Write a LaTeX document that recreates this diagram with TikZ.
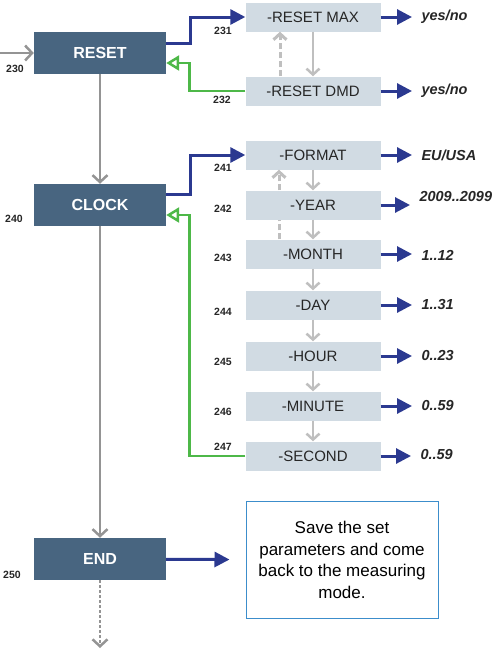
\documentclass[tikz,border=0pt]{standalone}
\usepackage{fontspec}
\setmainfont{Liberation Sans}
\usetikzlibrary{arrows.meta}
\definecolor{boxdark}{HTML}{486580}
\definecolor{boxlight}{HTML}{D1DBE3}
\definecolor{navy}{HTML}{2B3990}
\definecolor{okgreen}{HTML}{4DB848}
\definecolor{noteblue}{HTML}{3C8DCB}

\begin{document}
\begin{tikzpicture}
  [x=1pt,y=-1pt,
   main/.style={fill=boxdark,text=white,font=\fontsize{16}{19}\selectfont\bfseries,
     minimum width=132pt,minimum height=42pt,inner sep=0pt},
   item/.style={fill=boxlight,text=black!85,font=\fontsize{15}{18}\selectfont,
     minimum width=135pt,minimum height=29pt,inner sep=0pt},
   num/.style={font=\fontsize{10.5}{12}\selectfont\bfseries,text=black!85},
   val/.style={anchor=west,font=\fontsize{14.5}{17}\selectfont\bfseries\itshape,text=black!85},
   flow/.style={draw=black!42,line width=2.5pt,-{Straight Barb[length=7pt,width=15pt]}},
   next/.style={draw=black!25,line width=2.5pt,-{Straight Barb[length=6pt,width=13pt]}},
   prev/.style={next,line width=3pt,dash pattern=on 6pt off 3pt},
   result/.style={draw=navy,line width=3pt,-{Triangle[length=15pt,width=15pt]},shorten >=6pt},
   back/.style={draw=okgreen,line width=2.5pt,-{Triangle[open,length=13pt,width=15pt]}}]

  \useasboundingbox (0,0) rectangle (498,654);

  % main steps
  \node[main] (reset) at (100,53)  {RESET};
  \node[main] (clock) at (100,205) {CLOCK};
  \node[main] (end)   at (100,559) {END};
  \coordinate (start) at (0,53);
  \coordinate (more)  at (100,648);

  \node[num] at (15,69)  {230};
  \node[num] at (14,219) {240};
  \node[num] at (12,575) {250};

  \draw[flow] (start) -- (reset);
  \draw[flow] (reset) -- (clock);
  \draw[flow] (clock) -- (end);
  \draw[flow,dash pattern=on 3pt off 2pt] (end) -- (more);

  % reset menu
  \node[item] (rmax) at (313,17) {-RESET MAX};
  \node[item] (rdmd) at (313,91) {-RESET DMD};
  \node[num] at (223,31)  {231};
  \node[num] at (222,100) {232};

  % clock menu
  \foreach \name/\y/\txt in {format/155/FORMAT,year/205/YEAR,month/254/MONTH,
      day/305/DAY,hour/356/HOUR,minute/406/MINUTE,second/456/SECOND}
    \node[item] (\name) at (313,\y) {-\txt};

  \foreach \y/\n in {168/241,209/242,258/243,312/244,362/245,412/246,447/247}
    \node[num] at (223,\y) {\n};

  % values
  \node[val] (v1) at (418,17)  {yes/no};
  \node[val] (v2) at (418,91)  {yes/no};
  \node[val] (v3) at (418,155) {EU/USA};
  \node[val] (v4) at (416,197) {2009..2099};
  \node[val] (v5) at (418,255) {1..12};
  \node[val] (v6) at (418,305) {1..31};
  \node[val] (v7) at (418,356) {0..23};
  \node[val] (v8) at (418,406) {0..59};
  \node[val] (v9) at (417,455) {0..59};

  \foreach \a/\b in {rmax/v1,rdmd/v2,format/v3,year/v4,month/v5,day/v6,hour/v7,minute/v8,second/v9}
    \draw[result] (\a.east) -- (\a.east -| \b.west);

  \draw[next] (rmax) -- (rdmd);
  \draw[prev] ([xshift=-33pt]rdmd.north) -- ([xshift=-33pt]rmax.south);

  \foreach \a/\b in {format/year,year/month,month/day,day/hour,hour/minute,minute/second}
    \draw[next] (\a) -- (\b);
  \draw[prev,-] ([xshift=-34pt]month.north) -- ([xshift=-34pt]year.south);
  \draw[prev] ([xshift=-34pt]year.north) -- ([xshift=-34pt]format.south);

  % enter and leave the menus
  \draw[result,shorten >=0pt] ([yshift=10pt]reset.east) -- ++(24,0) |- (rmax.west);
  \draw[back] (rdmd.west) -- ++(-56,0) |- ([yshift=-10pt]reset.east);
  \draw[result,shorten >=0pt] ([yshift=11pt]clock.east) -- ++(24,0) |- (format.west);
  \draw[back] (second.west) -- ++(-56,0) |- ([yshift=-10pt]clock.east);

  % note
  \node[draw=noteblue,line width=1pt,minimum width=192pt,minimum height=117pt,
    align=center,font=\fontsize{17}{21.5}\selectfont] (note) at (342,560)
    {Save the set\\ parameters and come\\ back to the measuring\\ mode.};
  \draw[result,shorten >=16pt] (end) -- (note);

\end{tikzpicture}
\end{document}
